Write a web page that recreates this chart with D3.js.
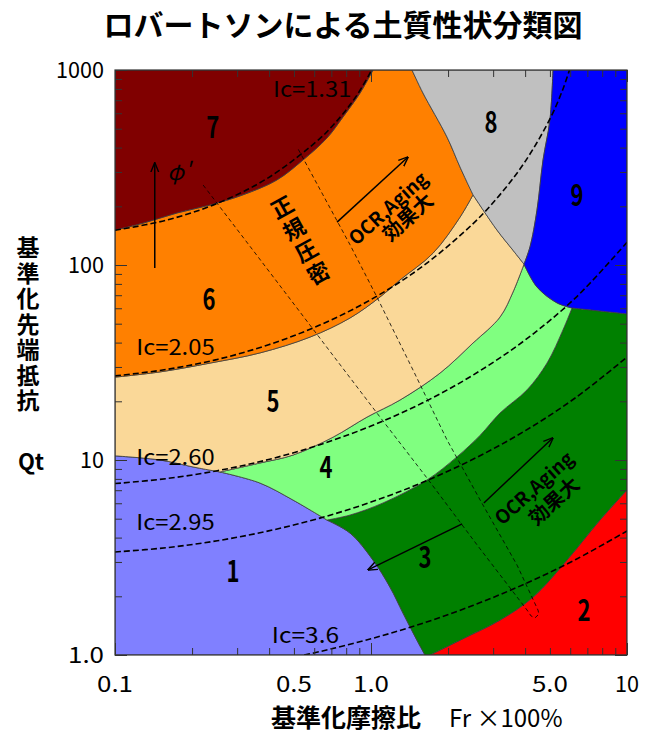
<!DOCTYPE html>
<html lang="ja">
<head>
<meta charset="UTF-8">
<title>ロバートソンによる土質性状分類図</title>
<style>
  body { margin: 0; background: #fff; }
  text { font-family: "Noto Sans CJK JP", "Noto Sans", sans-serif; fill: #000; }
  .zone { stroke: #3c3c3c; stroke-width: 0.8px; }
  .ic { fill: none; stroke: #000; stroke-width: 1.6px; stroke-dasharray: 6,3; }
  .nc { fill: none; stroke: #000; stroke-width: 0.8px; stroke-dasharray: 4,3; }
  .arrow { fill: none; stroke: #000; stroke-width: 1.5px; }
  .frame { fill: none; stroke: #333; stroke-width: 1.2px; }
  .vert { writing-mode: vertical-rl; }
</style>
</head>
<body>
<script src="https://cdnjs.cloudflare.com/ajax/libs/d3/7.8.5/d3.min.js"></script>
<script>

// tick labels
var xTickValues = [0.1, 0.5, 1, 5, 10],
    xTickLabels = ["0.1", "0.5", "1.0", "5.0", "10"];
var yTickValues = [1, 10, 100, 1000],
    yTickLabels = ["1.0", "10", "100", "1000"];

// zone boundaries, [Fr %, Qt]
var bound76 = [[0.1,151],[0.129,164],[0.175,185],[0.235,203],[0.316,229],[0.429,273],[0.543,346],[0.673,448],[0.777,574],[0.906,762],[1.018,1000]];
var bound65 = [[0.1,26.6],[0.15,28.3],[0.235,31.4],[0.368,35.4],[0.578,42.7],[0.828,53.5],[1.084,68.5],[1.298,83.8],[1.747,115],[2.227,176],[2.503,229]];
var bound68 = [[2.503,229],[2.227,318],[1.981,453],[1.596,762],[1.446,1000]];
var bound89 = [[5.14,1000],[5.0,554],[4.70,346],[4.45,191],[4.18,124],[3.96,101]];
var bound85 = [[2.503,229],[3.106,151],[3.587,119],[3.96,101]];
var bound54 = [[3.96,101],[3.587,72.7],[3.191,54.1],[2.503,39.8],[1.86,27.9],[1.298,20.3],[0.965,16.6],[0.711,13.1],[0.496,10.6],[0.368,9.65],[0.257,8.68]];
var bound51 = [[0.1,10.5],[0.15,10.0],[0.202,9.21],[0.257,8.68]];
var bound14 = [[0.257,8.68],[0.368,7.62],[0.496,6.23],[0.673,4.92]];
var bound94 = [[3.96,101],[4.45,77.1],[5.33,63.9],[6.10,60.2]];
var bound93 = [[6.10,60.2],[7.84,58.1],[10,56.1]];
var bound43 = [[6.10,60.2],[5.62,46.4],[4.87,31.4],[4.07,22.9],[3.19,17.4],[2.67,13.4],[2.17,10.4],[1.655,7.90],[1.114,6.02],[0.828,5.22],[0.673,4.92]];
var bound13 = [[0.673,4.92],[0.828,4.22],[1.018,3.07],[1.186,2.23],[1.334,1.64],[1.512,1.19],[1.625,1]];
var bound32 = [[1.70,1],[2.371,1.24],[3.191,1.51],[4.294,1.98],[5.83,3.07],[7.84,4.92],[10,7.02]];

// Ic contours
var icNames = ["Ic=1.31", "Ic=2.05", "Ic=2.60", "Ic=2.95", "Ic=3.6"];
var ic131 = [[0.1,150.8],[0.158,169.5],[0.251,207],[0.398,280.8],[0.631,444.6],[0.708,518],[0.794,617],[0.891,760],[1.0,984],[1.0065,1000]];
var ic205 = [[0.1,27.0],[0.158,29.1],[0.251,32.8],[0.398,39.0],[0.631,49.2],[1.0,66.5],[1.585,98.1],[2.512,163.6],[3.162,226.2],[3.981,336.1],[5.012,564.5],[5.623,799.6],[5.96,1000]];
var ic260 = [[0.1,7.57],[0.158,8.02],[0.251,8.81],[0.398,10.06],[0.631,11.98],[1.0,14.93],[1.585,19.59],[2.512,27.33],[3.981,41.04],[6.310,68.08],[10,130.8]];
var ic295 = [[0.1,3.375],[0.158,3.548],[0.251,3.854],[0.398,4.329],[0.631,5.034],[1.0,6.083],[1.585,7.660],[2.512,10.11],[3.981,14.07],[6.310,20.90],[10,33.68]];
var ic36  = [[0.548,1],[0.631,1.041],[1.0,1.211],[1.585,1.451],[2.512,1.799],[3.981,2.312],[6.310,3.090],[10,4.325]];
var icLabelAt = [[0.414,727],[0.121,34.6],[0.121,9.43],[0.121,4.38],[0.410,1.15]];

// normally consolidated band (two dashed lines joined at the bottom)
var ncBand = [[0.221,257],[0.346,119],[0.528,57.4],[1.055,17.4],[1.655,8.08],[2.60,3.66],[4.07,1.70],[4.22,1.585],[4.37,1.55],[4.53,1.62],[4.49,1.70],[3.72,2.89],[2.67,6.23],[1.98,12.7],[1.46,28.9],[1.055,68.5],[0.828,127],[0.649,229],[0.514,403]];

// zone numbers and where they sit
var zoneNames = ["1", "2", "3", "4", "5", "6", "7", "8", "9"];
var zoneLabelAt = [[0.289,2.67],[6.79,1.68],[1.625,3.15],[0.667,9.10],[0.414,19.8],[0.233,66.2],[0.241,504],[2.94,535],[6.38,226]];
var zoneColors = ["#8080ff", "#ff0000", "#008000", "#80ff80", "#fad898", "#ff8000", "#800000", "#c0c0c0", "#0000ff"];

// annotations
var phiArrow = [[0.143,96.5],[0.143,334]];
var phiLabelAt = [0.16,273];
var ocrArrows = [[[0.737,166],[1.395,358]], [[2.76,6.02],[5.14,13.0]]];
var ocrTextAt = [[1.155,198],[4.29,7.27]];
var ocrSubAt = [[1.38,178],[5.14,6.23]];
var zone3Arrow = [[2.27,4.70],[0.973,2.73]];
var ncTextAt = [0.449,198];

var width = 650,
    height = 734;

var x = d3.scaleLog().domain([0.1, 10]).range([115, 627]),
    y = d3.scaleLog().domain([1, 1000]).range([655, 70]);

var fr0 = x.domain()[0], fr1 = x.domain()[1],
    qt0 = y.domain()[0], qt1 = y.domain()[1];

var svg = d3.select("body").append("svg")
  .attr("width", width)
  .attr("height", height);

var defs = svg.append("defs");

defs.append("clipPath").attr("id", "plot")
  .append("rect")
    .attr("x", x.range()[0])
    .attr("y", y.range()[1])
    .attr("width", x.range()[1] - x.range()[0])
    .attr("height", y.range()[0] - y.range()[1]);

defs.append("marker")
    .attr("id", "head")
    .attr("viewBox", "0 0 10 10")
    .attr("refX", 9.5)
    .attr("refY", 5)
    .attr("markerWidth", 10)
    .attr("markerHeight", 10)
    .attr("markerUnits", "userSpaceOnUse")
    .attr("orient", "auto")
  .append("path")
    .attr("d", "M0,1L10,5L0,9")
    .attr("fill", "none")
    .attr("stroke", "#000")
    .attr("stroke-width", 1.4);

var curve = d3.line()
  .x(function(d){ return x(d[0]); })
  .y(function(d){ return y(d[1]); })
  .curve(d3.curveCatmullRom.alpha(0.5));

var straight = d3.line()
  .x(function(d){ return x(d[0]); })
  .y(function(d){ return y(d[1]); });

function rev(a) { return a.slice().reverse(); }
function last(a) { return a[a.length - 1]; }

function zonePath(parts) {
  return parts.map(function(p, i){
    var d = curve(p);
    return i ? "L" + d.slice(1) : d;
  }).join("") + "Z";
}

// each zone outline, in the same order as zoneNames
var zoneParts = [
  [bound51, bound14, bound13, [last(bound13), [fr0, qt0]]],
  [bound32, [last(bound32), [fr1, qt0]]],
  [rev(bound43), bound93, [last(bound93), last(bound32)], rev(bound32), [bound32[0], last(bound13)], rev(bound13)],
  [rev(bound54), bound94, bound43, rev(bound14)],
  [bound65, bound85, bound54, rev(bound51)],
  [bound76, [last(bound76), last(bound68)], rev(bound68), rev(bound65)],
  [[[fr0, qt1], last(bound76)], rev(bound76)],
  [[last(bound68), bound89[0]], bound89, rev(bound85), bound68],
  [[bound89[0], [fr1, qt1]], [[fr1, qt1], last(bound93)], rev(bound93), rev(bound94), rev(bound89)]
];

var plot = svg.append("g").attr("clip-path", "url(#plot)");

plot.selectAll(".zone")
  .data(zoneParts)
  .enter()
  .append("path")
    .attr("class", "zone")
    .attr("fill", function(d, i){ return zoneColors[i]; })
    .attr("d", zonePath);

plot.append("path")
  .attr("class", "nc")
  .attr("d", straight(ncBand));

plot.selectAll(".ic")
  .data([ic131, ic205, ic260, ic295, ic36])
  .enter()
  .append("path")
    .attr("class", "ic")
    .attr("d", curve);

// ticks on all four sides, pointing inward
var allX = x.ticks(), allY = y.ticks();
function isMajor(v) { var l = Math.log10(v); return Math.abs(l - Math.round(l)) < 1e-9; }

function ticks(axis, vals, size, tx, ty) {
  svg.append("g")
    .attr("transform", "translate(" + tx + "," + ty + ")")
    .attr("color", "#333")
    .call(axis.tickValues(vals).tickSize(-size).tickFormat(""))
    .call(function(g){ g.select(".domain").remove(); });
}

[[d3.axisBottom, 0, y.range()[0]], [d3.axisTop, 0, y.range()[1]]].forEach(function(a){
  ticks(a[0](x), allX.filter(isMajor), 12, a[1], a[2]);
  ticks(a[0](x), allX.filter(function(v){ return !isMajor(v); }), 7, a[1], a[2]);
});
[[d3.axisLeft, x.range()[0]], [d3.axisRight, x.range()[1]]].forEach(function(a){
  ticks(a[0](y), allY.filter(isMajor), 12, a[1], 0);
  ticks(a[0](y), allY.filter(function(v){ return !isMajor(v); }), 7, a[1], 0);
});

svg.append("rect")
  .attr("class", "frame")
  .attr("x", x.range()[0])
  .attr("y", y.range()[1])
  .attr("width", x.range()[1] - x.range()[0])
  .attr("height", y.range()[0] - y.range()[1]);

// tick labels
svg.selectAll(".xlab")
  .data(xTickValues)
  .enter()
  .append("text")
    .attr("class", "xlab")
    .attr("x", function(d){ return x(d); })
    .attr("y", 692)
    .attr("text-anchor", "middle")
    .attr("font-size", 22)
    .attr("textLength", function(d, i){ return xTickLabels[i].length * 12; })
    .attr("lengthAdjust", "spacingAndGlyphs")
    .text(function(d, i){ return xTickLabels[i]; });

svg.selectAll(".ylab")
  .data(yTickValues)
  .enter()
  .append("text")
    .attr("class", "ylab")
    .attr("x", 104)
    .attr("y", function(d){ return y(d) + 8; })
    .attr("text-anchor", "end")
    .attr("font-size", 22)
    .attr("textLength", function(d, i){ return yTickLabels[i].length * 12; })
    .attr("lengthAdjust", "spacingAndGlyphs")
    .text(function(d, i){ return yTickLabels[i]; });

// zone numbers
svg.selectAll(".zlab")
  .data(zoneLabelAt)
  .enter()
  .append("text")
    .attr("class", "zlab")
    .attr("x", function(d){ return x(d[0]); })
    .attr("y", function(d){ return y(d[1]) + 10; })
    .attr("text-anchor", "middle")
    .attr("font-size", 29)
    .attr("font-weight", "bold")
    .attr("textLength", 13)
    .attr("lengthAdjust", "spacingAndGlyphs")
    .text(function(d, i){ return zoneNames[i]; });

// Ic labels
svg.selectAll(".iclab")
  .data(icLabelAt)
  .enter()
  .append("text")
    .attr("class", "iclab")
    .attr("x", function(d){ return x(d[0]); })
    .attr("y", function(d){ return y(d[1]); })
    .attr("font-size", 21)
    .attr("textLength", function(d, i){ return icNames[i].length * 11.2; })
    .attr("lengthAdjust", "spacingAndGlyphs")
    .text(function(d, i){ return icNames[i]; });

// arrows
svg.selectAll(".arrow")
  .data([phiArrow, ocrArrows[0], ocrArrows[1], zone3Arrow])
  .enter()
  .append("path")
    .attr("class", "arrow")
    .attr("marker-end", "url(#head)")
    .attr("d", straight);

svg.append("text")
  .attr("x", x(phiLabelAt[0]))
  .attr("y", y(phiLabelAt[1]))
  .attr("font-size", 22)
  .attr("font-style", "italic")
  .text("φ'");

// OCR, Aging notes
ocrTextAt.forEach(function(p, i){
  svg.append("text")
    .attr("transform", "translate(" + x(p[0]) + "," + y(p[1]) + ") rotate(-42)")
    .attr("text-anchor", "middle")
    .attr("dominant-baseline", "central")
    .attr("font-size", 19)
    .attr("font-weight", "bold")
    .attr("textLength", 98)
    .attr("lengthAdjust", "spacingAndGlyphs")
    .text("OCR,Aging");
  svg.append("text")
    .attr("transform", "translate(" + x(ocrSubAt[i][0]) + "," + y(ocrSubAt[i][1]) + ") rotate(-42)")
    .attr("text-anchor", "middle")
    .attr("dominant-baseline", "central")
    .attr("font-size", 20)
    .attr("font-weight", "bold")
    .text("効果大");
});

// 正規圧密, vertical text turned along the band
svg.append("text")
  .attr("class", "vert")
  .attr("transform", "translate(" + x(ncTextAt[0]) + "," + y(ncTextAt[1]) + ") rotate(-29)")
  .attr("y", -11)
  .attr("font-size", 22)
  .attr("font-weight", "bold")
  .attr("letter-spacing", 3)
  .text("正規圧密");

// titles
svg.append("text")
  .attr("x", 343)
  .attr("y", 36)
  .attr("text-anchor", "middle")
  .attr("font-size", 30)
  .attr("font-weight", "bold")
  .text("ロバートソンによる土質性状分類図");

svg.append("text")
  .attr("class", "vert")
  .attr("x", 28)
  .attr("y", 236)
  .attr("font-size", 23)
  .attr("font-weight", "bold")
  .attr("letter-spacing", 2.5)
  .text("基準化先端抵抗");

svg.append("text")
  .attr("x", 31)
  .attr("y", 470)
  .attr("text-anchor", "middle")
  .attr("font-size", 22)
  .attr("font-weight", "bold")
  .text("Qt");

var xt = svg.append("text")
  .attr("x", 271)
  .attr("y", 727)
  .attr("font-size", 25);
xt.append("tspan").attr("font-weight", "bold").text("基準化摩擦比");
xt.append("tspan").attr("dx", 28).attr("font-size", 24).text("Fr ×100%");

</script>
</body>
</html>
